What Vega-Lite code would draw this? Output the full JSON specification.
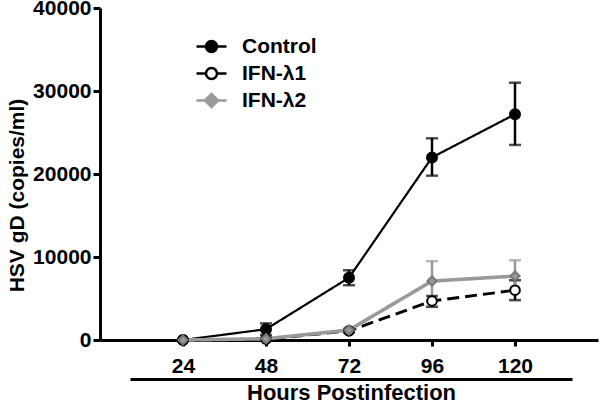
{
  "$schema": "https://vega.github.io/schema/vega-lite/v6.json",
  "width": 498,
  "height": 332,
  "autosize": "none",
  "padding": {"left": 100, "top": 8, "right": 2, "bottom": 64},
  "background": "white",
  "config": {
    "view": {"stroke": null},
    "font": "Liberation Sans",
    "axis": {
      "grid": false,
      "domainColor": "black",
      "tickColor": "black",
      "labelColor": "black",
      "titleColor": "black",
      "labelFont": "Liberation Sans",
      "titleFont": "Liberation Sans",
      "labelFontWeight": "bold",
      "titleFontWeight": "bold"
    },
    "legend": {
      "orient": "none",
      "legendX": 100,
      "legendY": 27,
      "padding": 0,
      "labelFont": "Liberation Sans",
      "labelFontWeight": "bold",
      "labelFontSize": 21,
      "labelColor": "black",
      "labelOffset": 19,
      "rowPadding": 5,
      "symbolSize": 400,
      "symbolStrokeWidth": 2.5,
      "symbolOpacity": 1
    }
  },
  "datasets": {
    "obs": [
      {"series": "Control", "h": 24, "mean": 0, "lo": null, "hi": null},
      {"series": "Control", "h": 48, "mean": 1300, "lo": 600, "hi": 2000},
      {"series": "Control", "h": 72, "mean": 7500, "lo": 6600, "hi": 8400},
      {"series": "Control", "h": 96, "mean": 22000, "lo": 19800, "hi": 24300},
      {"series": "Control", "h": 120, "mean": 27200, "lo": 23500, "hi": 31000},
      {"series": "IFN-λ1", "h": 24, "mean": 0, "lo": null, "hi": null},
      {"series": "IFN-λ1", "h": 48, "mean": 100, "lo": null, "hi": null},
      {"series": "IFN-λ1", "h": 72, "mean": 1100, "lo": 900, "hi": 1300},
      {"series": "IFN-λ1", "h": 96, "mean": 4700, "lo": 4000, "hi": 5300},
      {"series": "IFN-λ1", "h": 120, "mean": 6000, "lo": 4800, "hi": 7200},
      {"series": "IFN-λ2", "h": 24, "mean": 0, "lo": null, "hi": null},
      {"series": "IFN-λ2", "h": 48, "mean": 150, "lo": null, "hi": null},
      {"series": "IFN-λ2", "h": 72, "mean": 1200, "lo": 1000, "hi": 1400},
      {"series": "IFN-λ2", "h": 96, "mean": 7100, "lo": 4700, "hi": 9500},
      {"series": "IFN-λ2", "h": 120, "mean": 7700, "lo": 5800, "hi": 9600}
    ]
  },
  "data": {"name": "obs"},
  "layer": [
    {
      "encoding": {
        "x": {
          "field": "h",
          "type": "quantitative",
          "scale": {"domain": [0, 144], "nice": false, "zero": false},
          "axis": {
            "values": [24, 48, 72, 96, 120],
            "title": null,
            "domainWidth": 3,
            "tickWidth": 3,
            "tickSize": 6,
            "labelFontSize": 21,
            "labelPadding": 9,
            "labelFlush": false,
            "labelOverlap": false
          }
        },
        "y": {
          "field": "mean",
          "type": "quantitative",
          "scale": {"domain": [0, 40000], "nice": false},
          "axis": {
            "values": [0, 10000, 20000, 30000, 40000],
            "format": "d",
            "title": "HSV gD (copies/ml)",
            "titleFontSize": 21,
            "labelFontSize": 21,
            "tickSize": 7,
            "tickWidth": 3,
            "domainWidth": 3,
            "labelPadding": 2,
            "titlePadding": 5,
            "titleY": 187
          }
        }
      },
      "layer": [
        {
          "mark": {"type": "line"},
          "encoding": {
            "color": {
              "field": "series",
              "type": "nominal",
              "scale": {"domain": ["Control", "IFN-λ1", "IFN-λ2"], "range": ["black", "black", "#999999"]},
              "legend": null
            },
            "strokeDash": {
              "field": "series",
              "type": "nominal",
              "scale": {"domain": ["Control", "IFN-λ1", "IFN-λ2"], "range": [[1, 0], [12, 6], [1, 0]]},
              "legend": null
            },
            "strokeWidth": {
              "field": "series",
              "type": "nominal",
              "scale": {"domain": ["Control", "IFN-λ1", "IFN-λ2"], "range": [2.2, 3.6, 2.5]},
              "legend": null
            }
          }
        },
        {
          "mark": {"type": "rule", "strokeWidth": 2.5},
          "encoding": {
            "y": {"field": "lo", "type": "quantitative", "title": "HSV gD (copies/ml)"},
            "y2": {"field": "hi"},
            "color": {"field": "series", "type": "nominal", "legend": null}
          }
        },
        {
          "mark": {"type": "tick", "orient": "horizontal", "size": 12, "thickness": 2.5},
          "encoding": {
            "y": {"field": "hi", "type": "quantitative", "title": "HSV gD (copies/ml)"},
            "color": {"field": "series", "type": "nominal", "legend": null}
          }
        },
        {
          "mark": {"type": "tick", "orient": "horizontal", "size": 12, "thickness": 2.5},
          "encoding": {
            "y": {"field": "lo", "type": "quantitative", "title": "HSV gD (copies/ml)"},
            "color": {"field": "series", "type": "nominal", "legend": null}
          }
        },
        {
          "mark": {"type": "point", "opacity": 1, "strokeWidth": 2},
          "encoding": {
            "shape": {
              "field": "series",
              "type": "nominal",
              "scale": {"domain": ["Control", "IFN-λ1", "IFN-λ2"], "range": ["circle", "circle", "diamond"]},
              "legend": null
            },
            "fill": {
              "field": "series",
              "type": "nominal",
              "scale": {"domain": ["Control", "IFN-λ1", "IFN-λ2"], "range": ["black", "white", "#999999"]},
              "legend": null
            },
            "stroke": {
              "field": "series",
              "type": "nominal",
              "scale": {"domain": ["Control", "IFN-λ1", "IFN-λ2"], "range": ["black", "black", "#777777"]},
              "legend": null
            },
            "size": {
              "field": "series",
              "type": "nominal",
              "scale": {"domain": ["Control", "IFN-λ1", "IFN-λ2"], "range": [100, 85, 160]},
              "legend": null
            }
          }
        }
      ]
    },
    {
      "mark": {"type": "rule", "opacity": 0},
      "encoding": {
        "x": {
          "field": "h",
          "type": "quantitative",
          "scale": {"domain": [0, 144], "range": [30, 472], "nice": false, "zero": false},
          "axis": {
            "orient": "bottom",
            "title": "Hours Postinfection",
            "offset": 39,
            "ticks": false,
            "labels": false,
            "domainWidth": 3,
            "titleFontSize": 22,
            "titlePadding": 3
          }
        }
      }
    },
    {
      "mark": {"type": "point", "opacity": 0},
      "encoding": {
        "shape": {
          "field": "series",
          "type": "nominal",
          "scale": {
            "domain": ["Control", "IFN-λ1", "IFN-λ2"],
            "range": [
              "M-1.5,0H-0.55M0.55,0H1.5M0.55,0A0.55,0.55,0,1,1,-0.55,0A0.55,0.55,0,1,1,0.55,0Z",
              "M-1.5,0H-0.55M0.55,0H1.5M0.55,0A0.55,0.55,0,1,1,-0.55,0A0.55,0.55,0,1,1,0.55,0Z",
              "M-1.5,0H-0.65M0.65,0H1.5M0,-0.65L0.65,0L0,0.65L-0.65,0Z"
            ]
          },
          "legend": {"title": null}
        },
        "fill": {
          "field": "series",
          "type": "nominal",
          "scale": {"domain": ["Control", "IFN-λ1", "IFN-λ2"], "range": ["black", "white", "#999999"]},
          "legend": {"title": null}
        },
        "stroke": {
          "field": "series",
          "type": "nominal",
          "scale": {"domain": ["Control", "IFN-λ1", "IFN-λ2"], "range": ["black", "black", "#999999"]},
          "legend": {"title": null}
        }
      }
    }
  ],
  "resolve": {
    "scale": {"x": "independent", "shape": "independent", "fill": "independent", "stroke": "independent"}
  }
}
